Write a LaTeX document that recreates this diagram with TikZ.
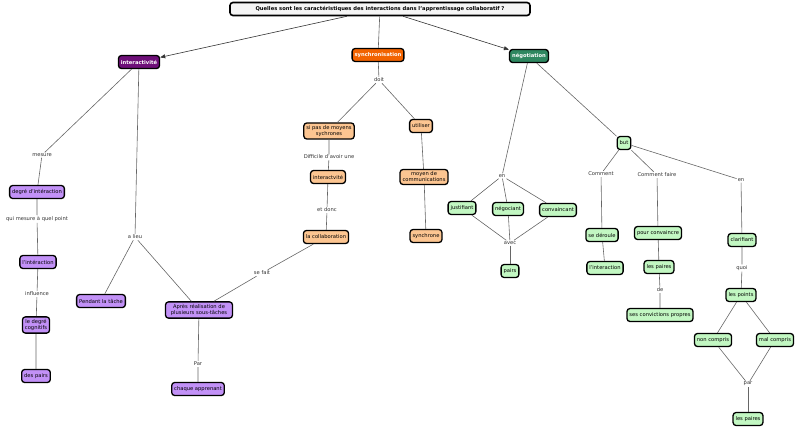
\documentclass[tikz,border=0pt]{standalone}
\usepackage{fontspec}
\setmainfont{DejaVu Sans}
\usetikzlibrary{arrows.meta}
\definecolor{lav}{HTML}{C291F7}
\definecolor{ora}{HTML}{FCC591}
\definecolor{grn}{HTML}{C2F7C2}
\definecolor{purp}{HTML}{6E0F78}
\definecolor{oran}{HTML}{F26300}
\definecolor{dgrn}{HTML}{2E8760}
\tikzset{
 cbox/.style={draw=black,line width=1.3pt,rounded corners=3pt,inner sep=2.5pt,minimum height=13pt,font=\fontsize{5.2}{6}\selectfont,align=center},
 lv/.style={cbox,fill=lav},
 og/.style={cbox,fill=ora},
 gr/.style={cbox,fill=grn},
 top/.style={cbox,text=white,font=\fontsize{5.2}{6}\selectfont\bfseries},
 lbl/.style={fill=white,inner sep=1pt,font=\fontsize{5.2}{6}\selectfont,text=black!80},
 ln/.style={draw=black!60,line width=0.6pt},
 ar/.style={ln,draw=black!80,-{Triangle[length=5pt,width=4pt]}}
}
\begin{document}
\begin{tikzpicture}[x=1pt,y=-1pt]
\useasboundingbox (0,0) rectangle (800,429);
% top
\node[cbox,fill=black!4,line width=1.6pt,font=\fontsize{5.2}{6}\selectfont\bfseries,minimum width=300pt] (root) at (380,9) {Quelles sont les caractéristiques des interactions dans l'apprentissage collaboratif ?};
\node[top,fill=purp] (inter) at (139,62) {interactivité};
\node[top,fill=oran] (sync) at (378,55) {synchronisation};
\node[top,fill=dgrn] (nego) at (529,56) {négotiation};
\draw[ar] (root) -- (inter);
\draw[ln] (root) -- (sync);
\draw[ar] (root) -- (nego);
% left
\node[lbl] (l1) at (42,155) {mesure};
\node[lv] (deg) at (37,192) {degré d'intéraction};
\node[lbl] (l2) at (37,219) {qui mesure à quel point};
\node[lv] (lint) at (38,262) {l'intéraction};
\node[lbl] (l3) at (37,294) {influence};
\node[lv] (cog) at (36,325) {le degré\\cognitifs};
\node[lv] (pairs1) at (36,376) {des pairs};
\node[lbl] (l4) at (135,237) {a lieu};
\node[lv] (pend) at (101,301) {Pendant la tâche};
\node[lv,text width=62pt] (apres) at (199,310) {Après réalisation de plusieurs sous-tâches};
\node[lbl] (l5) at (198,364) {Par};
\node[lv] (chaq) at (198,389) {chaque apprenant};
\draw[ln] (inter) -- (l1) -- (deg) -- (l2) -- (lint) -- (l3) -- (cog) -- (pairs1);
\draw[ln] (inter) -- (l4) -- (pend);
\draw[ln] (l4) -- (apres) -- (l5) -- (chaq);
% sync
\node[lbl] (s1) at (379,80) {doit};
\node[og] (sipas) at (329,131) {si pas de moyens\\sychrones};
\node[og] (util) at (421,126) {utiliser};
\node[lbl] (s2) at (329,157) {Difficile d'avoir une};
\node[og] (ivt) at (328,177) {interactvité};
\node[lbl] (s3) at (327,210) {et donc};
\node[og] (coll) at (326,237) {la collaboration};
\node[lbl] (s4) at (262,273) {se fait};
\node[og] (moyen) at (424,177) {moyen de\\communications};
\node[og] (synch) at (426,236) {synchrone};
\draw[ln] (sync) -- (s1) -- (sipas) -- (s2) -- (ivt) -- (s3) -- (coll) -- (s4) -- (apres);
\draw[ln] (s1) -- (util) -- (moyen) -- (synch);
% nego
\node[lbl] (n1) at (502,176) {en};
\node[gr] (just) at (462,208) {justifiant};
\node[gr] (negoc) at (508,209) {négociant};
\node[gr] (conv) at (558,210) {convaincant};
\node[lbl] (n2) at (510,243) {avec};
\node[gr] (pairs2) at (510,271) {pairs};
\draw[ln] (nego) -- (n1);
\draw[ln] (n1) -- (just) -- (n2);
\draw[ln] (n1) -- (negoc) -- (n2);
\draw[ln] (n1) -- (conv) -- (n2);
\draw[ln] (n2) -- (pairs2);
\node[gr] (but) at (624,143) {but};
\draw[ln] (nego) -- (but);
\node[lbl] (b1) at (601,174) {Comment};
\node[gr] (sed) at (602,235) {se déroule};
\node[gr] (lint2) at (605,268) {l'interaction};
\draw[ln] (but) -- (b1) -- (sed) -- (lint2);
\node[lbl] (b2) at (657,175) {Comment faire};
\node[gr] (pour) at (658,233) {pour convaincre};
\node[gr] (lesp) at (659,267) {les paires};
\node[lbl] (b3) at (660,290) {de};
\node[gr] (conv2) at (660,315) {ses convictions propres};
\draw[ln] (but) -- (b2) -- (pour) -- (lesp) -- (b3) -- (conv2);
\node[lbl] (b4) at (741,180) {en};
\node[gr] (clar) at (742,240) {clarifiant};
\node[lbl] (b5) at (742,268) {quoi};
\node[gr] (pts) at (741,295) {les points};
\node[gr] (nonc) at (713,340) {non compris};
\node[gr] (malc) at (775,340) {mal compris};
\node[lbl] (b6) at (748,384) {par};
\node[gr] (lesp2) at (748,419) {les paires};
\draw[ln] (but) -- (b4) -- (clar) -- (b5) -- (pts);
\draw[ln] (pts) -- (nonc) -- (b6);
\draw[ln] (pts) -- (malc) -- (b6);
\draw[ln] (b6) -- (lesp2);
\end{tikzpicture}
\end{document}
